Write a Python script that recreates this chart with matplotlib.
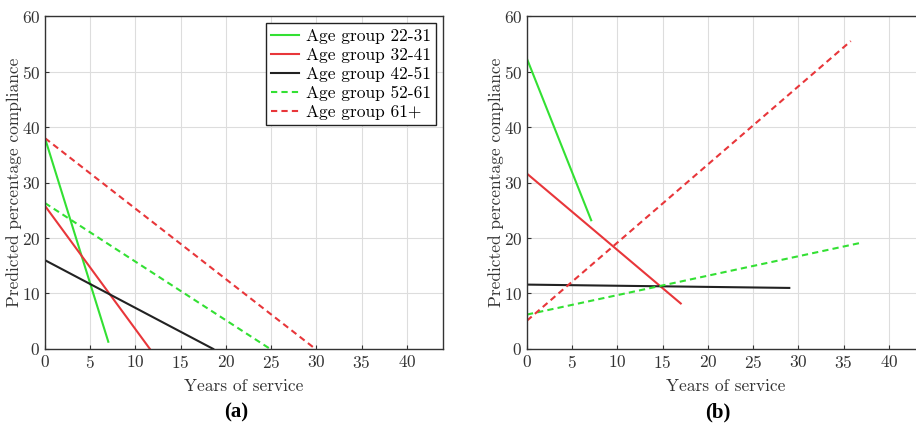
import matplotlib.pyplot as plt

plt.rcParams['font.family'] = ['cmr10', 'DejaVu Serif']
plt.rcParams['axes.formatter.use_mathtext'] = True
plt.rcParams['mathtext.fontset'] = 'cm'

groups = ["Age group 22-31", "Age group 32-41", "Age group 42-51",
          "Age group 52-61", "Age group 61+"]
colors = ["#33e033", "#e8363a", "#222222", "#33e033", "#e8363a"]
styles = ["-", "-", "-", "--", "--"]

# start and end points of each fitted line (years, percent)
years_a = [[0, 7.0], [0, 11.6], [0, 18.6], [0, 24.9], [0, 29.9]]
comp_a = [[38.0, 1.3], [25.8, 0.0], [16.0, 0.0], [26.3, 0.0], [38.0, 0.0]]

years_b = [[0, 7.1], [0, 17.0], [0, 29.0], [0, 37.1], [0, 35.8]]
comp_b = [[52.3, 23.2], [31.6, 8.2], [11.6, 11.0], [6.2, 19.2], [5.1, 55.5]]

xticks = [0, 5, 10, 15, 20, 25, 30, 35, 40]
yticks = [0, 10, 20, 30, 40, 50, 60]


def draw_panel(ax, xs, ys, tag, legend=False):
    for x, y, c, ls, lab in zip(xs, ys, colors, styles, groups):
        ax.plot(x, y, color=c, linestyle=ls, linewidth=1.5, label=lab,
                dashes=(3, 2) if ls == "--" else (None, None))
    ax.set_xlim(0, 44)
    ax.set_ylim(0, 60)
    ax.set_xticks(xticks)
    ax.set_yticks(yticks)
    ax.grid(True, color="#dddddd", linewidth=0.8)
    ax.set_axisbelow(True)
    ax.tick_params(direction="in", length=3, labelsize=12.5, colors="#333333")
    for s in ax.spines.values():
        s.set_color("#333333")
        s.set_linewidth(1.0)
    ax.set_xlabel("Years of service", fontsize=12.5, color="#333333", labelpad=6)
    ax.set_ylabel("Predicted percentage compliance", fontsize=12.5,
                  color="#333333", labelpad=0)
    ax.text(0.48, -0.19, tag, transform=ax.transAxes, ha="center", va="center",
            fontsize=15, fontweight="bold",
            family=["Liberation Serif", "DejaVu Serif"])
    if legend:
        leg = ax.legend(loc="upper right", fontsize=12.5, handlelength=1.6,
                        handletextpad=0.4, borderpad=0.3, labelspacing=0.22,
                        fancybox=False, framealpha=1, edgecolor="#222222",
                        borderaxespad=0.4)
        leg.get_frame().set_linewidth(1.0)


fig = plt.figure(figsize=(9.16, 4.24), dpi=100)
ax1 = fig.add_axes([0.0491, 0.177, 0.4345, 0.785])
ax2 = fig.add_axes([0.5753, 0.177, 0.4345, 0.785])

draw_panel(ax1, years_a, comp_a, "(a)", legend=True)
draw_panel(ax2, years_b, comp_b, "(b)")

fig.savefig("out.png", dpi=100)
